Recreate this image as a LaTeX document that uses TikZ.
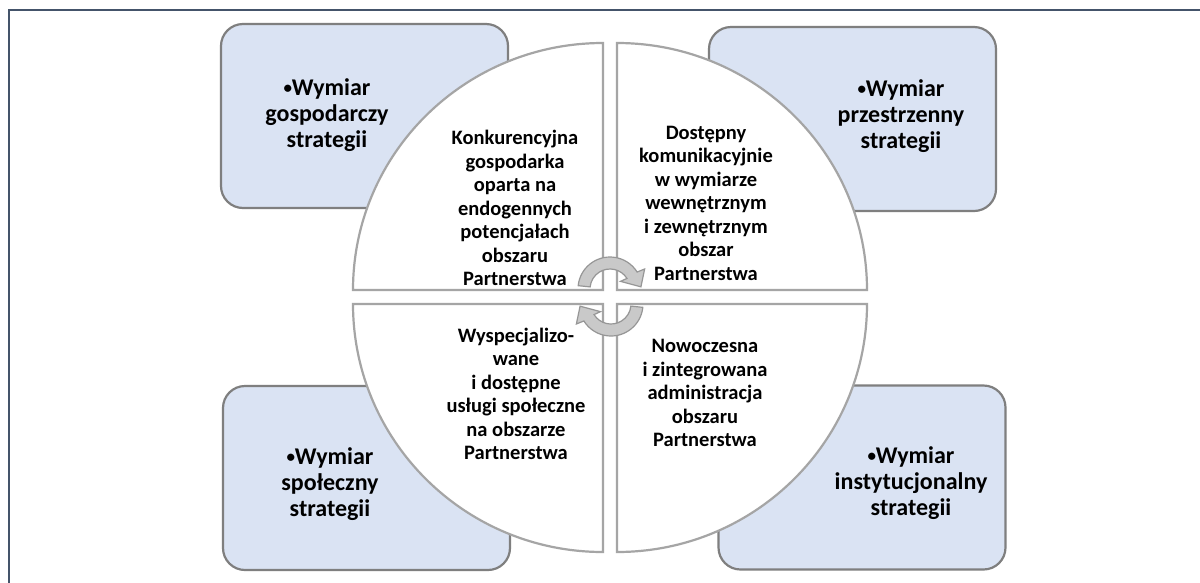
\documentclass[tikz,border=0pt]{standalone}
\usepackage{fontspec}
\setmainfont{Carlito}
\usetikzlibrary{calc}
\definecolor{framec}{HTML}{44546A}
\definecolor{boxfill}{HTML}{DAE3F3}
\definecolor{boxline}{HTML}{7F7F7F}
\definecolor{quadline}{HTML}{A5A5A5}
\definecolor{arrfill}{HTML}{C9C9C9}
\definecolor{arrline}{HTML}{969696}
\newcommand{\smallbul}{{\fontsize{17}{17}\selectfont\raisebox{1.5pt}{•}}}
\tikzset{
  dimbox/.style={draw=boxline, fill=boxfill, line width=2.2pt, rounded corners=22pt,
    minimum width=287pt, minimum height=184pt, inner sep=0pt},
  quad/.style={draw=quadline, fill=white, line width=2.2pt},
  boxtxt/.style={font=\fontsize{24}{26}\selectfont\bfseries, align=center, inner sep=0pt},
  quadtxt/.style={font=\fontsize{20.5}{23.5}\selectfont\bfseries, align=center, inner sep=0pt},
  circarrow/.style={fill=arrfill, draw=arrline, line width=1.2pt, line join=miter}
}
\begin{document}
\begin{tikzpicture}[x=1pt,y=-1pt]
\useasboundingbox (0,0) rectangle (1200,582);
\fill[white] (0,0) rectangle (1200,582);
\draw[framec, line width=2.6pt] (9,583) -- (9,10) -- (1201,10);

% dimension boxes
\node[dimbox] (bTL) at (364.5,116) {};
\node[dimbox] (bTR) at (852.5,119) {};
\node[dimbox] (bBL) at (366.5,478) {};
\node[dimbox] (bBR) at (862,477.5) {};

% quadrants
\draw[quad] (603,290) -- (353,290) arc[start angle=180, end angle=270, x radius=250, y radius=247] -- cycle;
\draw[quad] (617,290) -- (617,43) arc[start angle=270, end angle=360, x radius=250, y radius=247] -- cycle;
\draw[quad] (617,304) -- (867,304) arc[start angle=0, end angle=90, x radius=250, y radius=248] -- cycle;
\draw[quad] (603,304) -- (603,552) arc[start angle=90, end angle=180, x radius=250, y radius=248] -- cycle;

% circular arrows
\coordinate (T) at (610,289);
\draw[circarrow] ($(T)+(186:32)$) arc[start angle=186, end angle=328, radius=32]
  -- ($(T)+(330:40)$) -- ($(T)+(356:31)$) -- ($(T)+(324:13)$)
  -- ($(T)+(328:20)$) arc[start angle=328, end angle=186, radius=20] -- cycle;
\begin{scope}[rotate around={180:(610.5,296.5)}]
\coordinate (B) at (610,289);
\draw[circarrow] ($(B)+(186:32)$) arc[start angle=186, end angle=328, radius=32]
  -- ($(B)+(330:40)$) -- ($(B)+(356:31)$) -- ($(B)+(324:13)$)
  -- ($(B)+(328:20)$) arc[start angle=328, end angle=186, radius=20] -- cycle;
\end{scope}

% box texts
\node[boxtxt] (tTL) at (327,115) {\smallbul Wymiar\\gospodarczy\\strategii};
\node[boxtxt] (tTR) at (901,116) {\smallbul Wymiar\\przestrzenny\\strategii};
\node[boxtxt] (tBL) at (330,484) {\smallbul Wymiar\\społeczny\\strategii};
\node[boxtxt] (tBR) at (911,483) {\smallbul Wymiar\\instytucjonalny\\strategii};

% quadrant texts
\node[quadtxt] (qTL) at (515,208) {Konkurencyjna\\gospodarka\\oparta na\\endogennych\\potencjałach\\obszaru\\Partnerstwa};
\node[quadtxt] (qTR) at (706,203) {Dostępny\\komunikacyjnie\\w wymiarze\\wewnętrznym\\i zewnętrznym\\obszar\\Partnerstwa};
\node[quadtxt] (qBL) at (516,394) {Wyspecjalizo-\\wane\\i dostępne\\usługi społeczne\\na obszarze\\Partnerstwa};
\node[quadtxt] (qBR) at (705,393) {Nowoczesna\\i zintegrowana\\administracja\\obszaru\\Partnerstwa};
\end{tikzpicture}
\end{document}
